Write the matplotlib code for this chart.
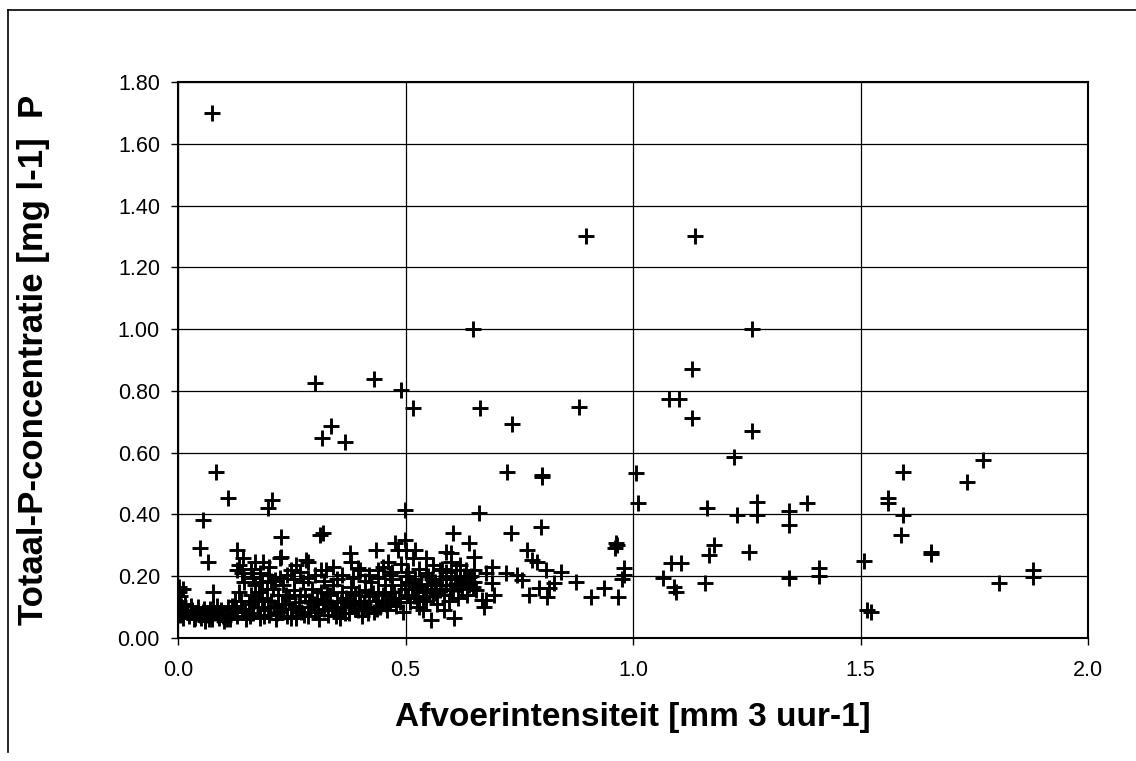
import numpy as np
import matplotlib
matplotlib.use("Agg")
import matplotlib.pyplot as plt
from matplotlib.lines import Line2D

plt.rcParams['font.family'] = ['Liberation Sans', 'DejaVu Sans']

# sparse / outlying points (afvoer, concentratie)
sparse = [
    (0.074, 1.70), (0.896, 1.30), (1.137, 1.30), (0.649, 1.00), (1.262, 1.00),
    (1.129, 0.87), (0.302, 0.824), (0.430, 0.838), (0.491, 0.803), (0.516, 0.744),
    (0.664, 0.744), (0.882, 0.749), (1.079, 0.773), (1.101, 0.773), (1.129, 0.713),
    (0.734, 0.693), (0.337, 0.687), (0.316, 0.648), (0.367, 0.636), (1.262, 0.670),
    (1.221, 0.585), (1.770, 0.576), (0.083, 0.538), (0.724, 0.538), (0.801, 0.528),
    (0.801, 0.520), (1.007, 0.533), (1.594, 0.538), (1.735, 0.506), (0.110, 0.452),
    (0.206, 0.447), (0.198, 0.420), (1.561, 0.452), (1.561, 0.438), (1.011, 0.436),
    (1.163, 0.420), (1.273, 0.441), (1.273, 0.398), (1.229, 0.398), (1.342, 0.410),
    (1.342, 0.366), (1.382, 0.436), (1.594, 0.398), (0.498, 0.414), (0.662, 0.404),
    (0.056, 0.382), (1.590, 0.333), (0.798, 0.360), (0.732, 0.339), (0.604, 0.339),
    (0.311, 0.333), (0.227, 0.328), (0.962, 0.307), (0.965, 0.300), (0.960, 0.290),
    (1.178, 0.301), (1.167, 0.269), (1.254, 0.279), (1.655, 0.280), (1.655, 0.272),
    (1.507, 0.250), (1.514, 0.090), (1.522, 0.085), (1.408, 0.226), (1.408, 0.200),
    (1.342, 0.193), (1.805, 0.177), (1.879, 0.220), (1.879, 0.196), (1.083, 0.242),
    (1.105, 0.242), (1.065, 0.193), (1.090, 0.166), (1.094, 0.150), (1.158, 0.177),
    (0.980, 0.226), (0.980, 0.204), (0.975, 0.190), (0.966, 0.134), (0.936, 0.161),
    (0.907, 0.134), (0.874, 0.182), (0.841, 0.215), (0.808, 0.220), (0.768, 0.285),
    (0.779, 0.252), (0.790, 0.245), (0.772, 0.139), (0.794, 0.161), (0.816, 0.161),
    (0.812, 0.134), (0.827, 0.177), (0.757, 0.188), (0.746, 0.204), (0.720, 0.210),
    (0.691, 0.230), (0.691, 0.177), (0.669, 0.123), (0.673, 0.101), (0.695, 0.139),
    (0.651, 0.263), (0.651, 0.220), (0.640, 0.198), (0.640, 0.307), (0.600, 0.274),
    (0.600, 0.247), (0.589, 0.279), (0.545, 0.258), (0.516, 0.258), (0.520, 0.285),
    (0.501, 0.285), (0.498, 0.317), (0.476, 0.307), (0.483, 0.285), (0.461, 0.247),
    (0.436, 0.285), (0.377, 0.274), (0.399, 0.220), (0.319, 0.339), (0.326, 0.220),
    (0.575, 0.220), (0.611, 0.220), (0.633, 0.220), (0.677, 0.210), (0.677, 0.123),
    (0.556, 0.058), (0.607, 0.064), (0.585, 0.091), (0.538, 0.091), (0.048, 0.290),
    (0.067, 0.247), (0.129, 0.285), (0.143, 0.258), (0.169, 0.247), (0.187, 0.247),
    (0.227, 0.263), (0.077, 0.150), (0.129, 0.220), (0.198, 0.204), (0.213, 0.188),
    (0.249, 0.220), (0.286, 0.247), (0.268, 0.215), (0.315, 0.220), (0.282, 0.252),
    (0.224, 0.258), (0.395, 0.226), (0.439, 0.220),
]

# dense band near the origin
dense = [
    (0.003, 0.165), (0.003, 0.150), (0.005, 0.135), (0.003, 0.120), (0.006, 0.105),
    (0.004, 0.095), (0.008, 0.085), (0.005, 0.075), (0.010, 0.065), (0.012, 0.160),
    (0.025, 0.070), (0.030, 0.090), (0.035, 0.060), (0.040, 0.080), (0.045, 0.100),
    (0.050, 0.065), (0.055, 0.085), (0.060, 0.055), (0.065, 0.075), (0.070, 0.095),
    (0.075, 0.060), (0.080, 0.080), (0.085, 0.105), (0.090, 0.065), (0.095, 0.090),
    (0.100, 0.055), (0.105, 0.075), (0.110, 0.100), (0.115, 0.060), (0.120, 0.085),
    (0.125, 0.120), (0.130, 0.070), (0.135, 0.150), (0.140, 0.095), (0.145, 0.180),
    (0.150, 0.060), (0.155, 0.110), (0.160, 0.140), (0.165, 0.080), (0.170, 0.170),
    (0.175, 0.100), (0.180, 0.065), (0.185, 0.130), (0.190, 0.090), (0.195, 0.160),
    (0.200, 0.075), (0.205, 0.120), (0.210, 0.100), (0.215, 0.060), (0.220, 0.140),
    (0.225, 0.085), (0.230, 0.170), (0.235, 0.110), (0.240, 0.070), (0.245, 0.130),
    (0.250, 0.095), (0.255, 0.155), (0.260, 0.065), (0.265, 0.115), (0.270, 0.085),
    (0.275, 0.180), (0.280, 0.135), (0.285, 0.070), (0.290, 0.100), (0.295, 0.160),
    (0.300, 0.085), (0.305, 0.125), (0.310, 0.060), (0.315, 0.150), (0.320, 0.095),
    (0.325, 0.110), (0.330, 0.075), (0.335, 0.140), (0.340, 0.170), (0.345, 0.090),
    (0.350, 0.120), (0.355, 0.065), (0.360, 0.150), (0.365, 0.100), (0.370, 0.130),
    (0.375, 0.080), (0.380, 0.165), (0.385, 0.110), (0.390, 0.140), (0.395, 0.090),
    (0.400, 0.120), (0.405, 0.070), (0.410, 0.155), (0.415, 0.100), (0.420, 0.135),
    (0.425, 0.180), (0.430, 0.085), (0.435, 0.120), (0.440, 0.150), (0.445, 0.100),
    (0.450, 0.140), (0.455, 0.170), (0.460, 0.090), (0.465, 0.120), (0.470, 0.190),
    (0.475, 0.150), (0.480, 0.105), (0.485, 0.130), (0.490, 0.170), (0.495, 0.085),
    (0.500, 0.200), (0.505, 0.140), (0.510, 0.115), (0.515, 0.160), (0.520, 0.190),
    (0.525, 0.130), (0.530, 0.100), (0.535, 0.175), (0.540, 0.150), (0.545, 0.120),
    (0.550, 0.200), (0.555, 0.160), (0.560, 0.135), (0.565, 0.180), (0.570, 0.110),
    (0.575, 0.155), (0.580, 0.190), (0.585, 0.140), (0.590, 0.170), (0.595, 0.120),
    (0.600, 0.195), (0.605, 0.155), (0.610, 0.175), (0.615, 0.130), (0.620, 0.200),
    (0.625, 0.160), (0.630, 0.185), (0.635, 0.140), (0.640, 0.170), (0.645, 0.200),
    (0.650, 0.180), (0.655, 0.155),
    (0.135, 0.235), (0.140, 0.210), (0.160, 0.225), (0.180, 0.210), (0.200, 0.230),
    (0.240, 0.205), (0.260, 0.235), (0.300, 0.205), (0.340, 0.230), (0.360, 0.205),
    (0.380, 0.245), (0.420, 0.205), (0.450, 0.230), (0.470, 0.215), (0.490, 0.240),
    (0.530, 0.225), (0.560, 0.235), (0.590, 0.215), (0.620, 0.235),
    # extra fill of the black mass
    (0.015, 0.110), (0.020, 0.085), (0.028, 0.105), (0.038, 0.065), (0.048, 0.075),
    (0.058, 0.095), (0.068, 0.060), (0.078, 0.105), (0.088, 0.075), (0.098, 0.070),
    (0.108, 0.060), (0.118, 0.105), (0.128, 0.095), (0.138, 0.120), (0.148, 0.085),
    (0.158, 0.070), (0.168, 0.120), (0.178, 0.150), (0.188, 0.070), (0.198, 0.100),
    (0.208, 0.160), (0.218, 0.080), (0.228, 0.110), (0.238, 0.140), (0.248, 0.065),
    (0.258, 0.105), (0.268, 0.140), (0.278, 0.075), (0.288, 0.120), (0.298, 0.110),
    (0.308, 0.090), (0.318, 0.120), (0.328, 0.145), (0.338, 0.100), (0.348, 0.070),
    (0.358, 0.115), (0.368, 0.080), (0.378, 0.120), (0.388, 0.095), (0.398, 0.150),
    (0.408, 0.110), (0.418, 0.080), (0.428, 0.145), (0.438, 0.095), (0.448, 0.120),
    (0.458, 0.110), (0.468, 0.150), (0.478, 0.130), (0.488, 0.115), (0.498, 0.160),
    (0.508, 0.180), (0.518, 0.135), (0.528, 0.165), (0.538, 0.130), (0.548, 0.170),
    (0.558, 0.190), (0.568, 0.145), (0.578, 0.170), (0.588, 0.200), (0.598, 0.160),
    (0.608, 0.190), (0.618, 0.170), (0.628, 0.200), (0.638, 0.185), (0.648, 0.165),
    (0.165, 0.195), (0.185, 0.180), (0.205, 0.185), (0.225, 0.195), (0.255, 0.190),
    (0.285, 0.195), (0.320, 0.185), (0.350, 0.190), (0.385, 0.195), (0.410, 0.185),
    (0.440, 0.195), (0.465, 0.205), (0.505, 0.215), (0.545, 0.210), (0.580, 0.225),
]

afvoer = np.array([p[0] for p in sparse + dense])
conc = np.array([p[1] for p in sparse + dense])

x_ticks = [0.0, 0.5, 1.0, 1.5, 2.0]
y_ticks = [0.0, 0.2, 0.4, 0.6, 0.8, 1.0, 1.2, 1.4, 1.6, 1.8]

fig = plt.figure(figsize=(11.36, 7.61), dpi=100)
ax = fig.add_axes([178 / 1136, 1 - 638 / 761, 910 / 1136, 556 / 761])

ax.plot(afvoer, conc, '+', color='black', markersize=11.5, markeredgewidth=2.1, zorder=3)

ax.set_xlim(0, 2.0)
ax.set_ylim(0, 1.8)
ax.set_xticks(x_ticks)
ax.set_yticks(y_ticks)
ax.set_xticklabels([f"{v:.1f}" for v in x_ticks])
ax.set_yticklabels([f"{v:.2f}" for v in y_ticks])
ax.grid(True, color='black', linewidth=0.9)
ax.set_axisbelow(True)
ax.tick_params(direction='out', length=5, width=1, labelsize=15.5, colors='black')
ax.tick_params(axis='y', pad=8)
ax.tick_params(axis='x', pad=11)
for s in ax.spines.values():
    s.set_linewidth(1.5)
    s.set_color('black')

ax.set_xlabel("Afvoerintensiteit [mm 3 uur-1]", fontsize=24, fontweight='bold')
ax.set_ylabel("Totaal-P-concentratie [mg l-1]  P", fontsize=25, fontweight='bold')
ax.xaxis.set_label_coords(0.5, -0.115)
ax.yaxis.set_label_coords(-0.141, 0.5)

# outer frame of the scanned figure
fig.add_artist(Line2D([8 / 1136, 8 / 1136], [1 - 10 / 761, 1 - 752 / 761],
                      transform=fig.transFigure, color='black', linewidth=1.2))
fig.add_artist(Line2D([8 / 1136, 1.0], [1 - 10 / 761, 1 - 10 / 761],
                      transform=fig.transFigure, color='black', linewidth=1.2))

fig.savefig("out.png", dpi=100)
